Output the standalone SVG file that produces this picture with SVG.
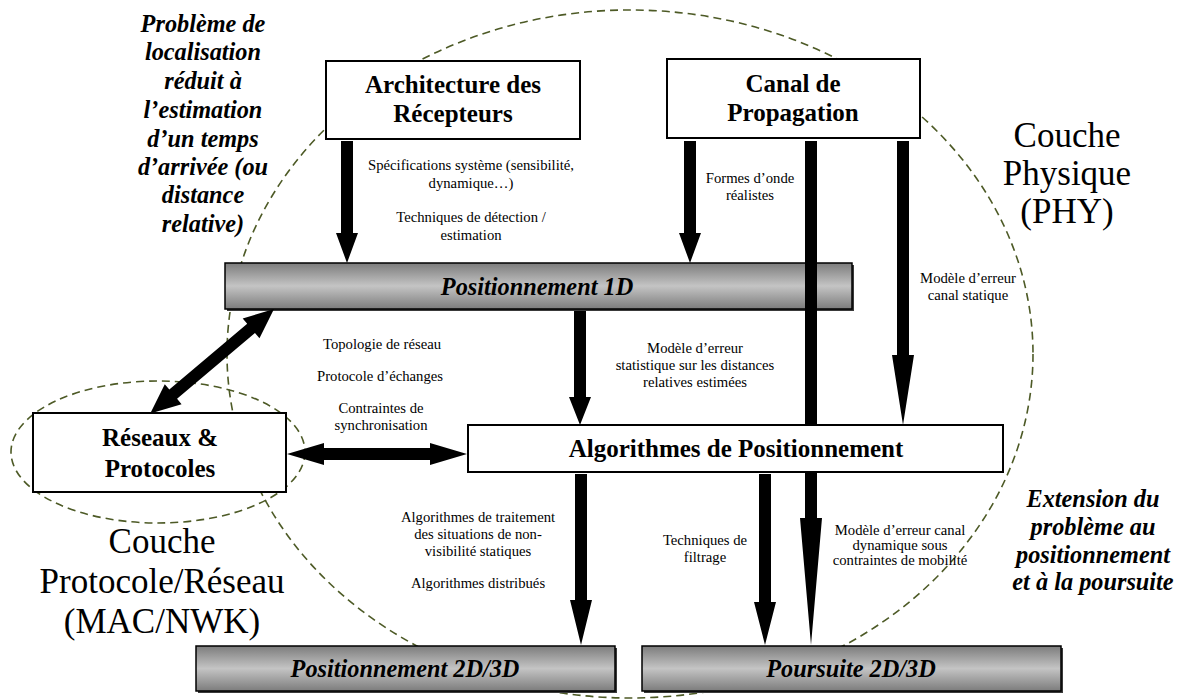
<svg xmlns="http://www.w3.org/2000/svg" width="1186" height="699" viewBox="0 0 1186 699">
<defs>
<linearGradient id="gbar" x1="0" y1="0" x2="0" y2="1">
<stop offset="0" stop-color="#7c7c7c"/>
<stop offset="0.5" stop-color="#c4c4c4"/>
<stop offset="1" stop-color="#7c7c7c"/>
</linearGradient>
<style>
.box{fill:#fff;stroke:#000;stroke-width:2}
.bar{fill:url(#gbar);stroke:#000;stroke-width:1.5}
.shadow{fill:#3a3a3a}
.dash{fill:none;stroke:#4d5a26;stroke-width:1.6;stroke-dasharray:8 5}
.arr{fill:#000}
text{font-family:'Liberation Serif','Times New Roman',Times,serif;fill:#000}
.title{font-size:25px;font-weight:bold;text-anchor:middle}
.bi{font-size:24.3px;font-weight:bold;font-style:italic;text-anchor:middle}
.big{font-size:35px;text-anchor:middle}
.lbl{font-size:14.7px;text-anchor:middle}
</style>
</defs>
<rect width="1186" height="699" fill="#fff"/>
<g id="zones">
<ellipse class="dash" cx="630" cy="354" rx="403" ry="344"/>
<ellipse class="dash" cx="158" cy="452" rx="147" ry="71"/>
</g>
<g id="architecture">
<rect class="box" x="326" y="61" width="254" height="78"/>
<text class="title" x="453" y="93">Architecture des</text>
<text class="title" x="453" y="122">Récepteurs</text>
</g>
<g id="canal">
<rect class="box" x="667" y="59" width="253" height="79"/>
<text class="title" x="793" y="92">Canal de</text>
<text class="title" x="793" y="121">Propagation</text>
</g>
<g id="pos1d">
<rect class="shadow" x="227" y="265" width="627" height="46"/>
<rect class="bar" x="225" y="263" width="627" height="46"/>
<text class="bi" x="537" y="295">Positionnement 1D</text>
</g>
<g id="reseaux">
<rect class="box" x="33" y="413" width="253" height="79"/>
<text class="title" x="160" y="446">Réseaux &amp;</text>
<text class="title" x="160" y="477">Protocoles</text>
</g>
<g id="connectors">
<path class="arr" d="M341,141 H353 V233 H358 L347,263 L336,233 H341 Z"/>
<path class="arr" d="M684,141 H696 V233 H701 L690,263 L679,233 H684 Z"/>
<path class="arr" d="M805,141 H817 V518 H822 L811,645 L800,518 H805 Z"/>
<path class="arr" d="M897,141 H909 V355 H914 L903,425 L892,355 H897 Z"/>
<path class="arr" d="M574,311 H586 V397 H591 L580,425 L569,397 H574 Z"/>
<path class="arr" d="M575,474 H587 V600 H592 L581,645 L570,600 H575 Z"/>
<path class="arr" d="M759,474 H771 V602 H776 L765,645 L754,602 H759 Z"/>
<path class="arr" d="M287,454 L324,443 V448 H430 V443 L467,454 L430,465 V460 H324 V465 Z"/>
<path class="arr" transform="translate(274,309) rotate(139.8)" d="M0,0 L30,-13 V-6 H132 V-13 L162,0 L132,13 V6 H30 V13 Z"/>
</g>
<g id="algorithmes">
<rect class="box" x="468" y="425" width="535" height="47"/>
<text class="title" x="736" y="457">Algorithmes de  Positionnement</text>
</g>
<g id="pos2d">
<rect class="shadow" x="198" y="648" width="419" height="45"/>
<rect class="bar" x="196" y="646" width="419" height="45"/>
<text class="bi" x="405" y="677">Positionnement 2D/3D</text>
</g>
<g id="poursuite">
<rect class="shadow" x="644" y="648" width="419" height="45"/>
<rect class="bar" x="642" y="646" width="419" height="45"/>
<text class="bi" x="851" y="677">Poursuite 2D/3D</text>
</g>
<g id="labels">
<text class="lbl" x="471" y="170">Spécifications système (sensibilité,</text>
<text class="lbl" x="471" y="188">dynamique…)</text>
<text class="lbl" x="471" y="222">Techniques de détection /</text>
<text class="lbl" x="471" y="240">estimation</text>
<text class="lbl" x="750" y="183">Formes d’onde</text>
<text class="lbl" x="750" y="200">réalistes</text>
<text class="lbl" x="968" y="283">Modèle d’erreur</text>
<text class="lbl" x="968" y="300">canal statique</text>
<text class="lbl" x="382" y="349">Topologie de réseau</text>
<text class="lbl" x="380" y="381">Protocole d’échanges</text>
<text class="lbl" x="381" y="413">Contraintes de</text>
<text class="lbl" x="381" y="430">synchronisation</text>
<text class="lbl" x="695" y="353">Modèle d’erreur</text>
<text class="lbl" x="695" y="370">statistique sur les distances</text>
<text class="lbl" x="695" y="387">relatives estimées</text>
<text class="lbl" x="478" y="522">Algorithmes de traitement</text>
<text class="lbl" x="478" y="539">des situations de non-</text>
<text class="lbl" x="478" y="556">visibilité statiques</text>
<text class="lbl" x="478" y="588">Algorithmes distribués</text>
<text class="lbl" x="705" y="545">Techniques de</text>
<text class="lbl" x="705" y="562">filtrage</text>
<text class="lbl" x="900" y="535">Modèle d’erreur canal</text>
<text class="lbl" x="900" y="550">dynamique sous</text>
<text class="lbl" x="900" y="565">contraintes de mobilité</text>
<text class="bi" x="203" y="32">Problème de</text>
<text class="bi" x="203" y="60">localisation</text>
<text class="bi" x="203" y="89">réduit à</text>
<text class="bi" x="203" y="118">l’estimation</text>
<text class="bi" x="203" y="147">d’un temps</text>
<text class="bi" x="203" y="175">d’arrivée (ou</text>
<text class="bi" x="203" y="203">distance</text>
<text class="bi" x="203" y="232">relative)</text>
<text class="big" x="1067" y="147">Couche</text>
<text class="big" x="1067" y="185">Physique</text>
<text class="big" x="1067" y="223">(PHY)</text>
<text class="big" x="162" y="553">Couche</text>
<text class="big" x="162" y="593">Protocole/Réseau</text>
<text class="big" x="162" y="633">(MAC/NWK)</text>
<text class="bi" x="1093" y="507">Extension du</text>
<text class="bi" x="1093" y="535">problème au</text>
<text class="bi" x="1093" y="563">positionnement</text>
<text class="bi" x="1093" y="590">et à la poursuite</text>
</g>
</svg>
